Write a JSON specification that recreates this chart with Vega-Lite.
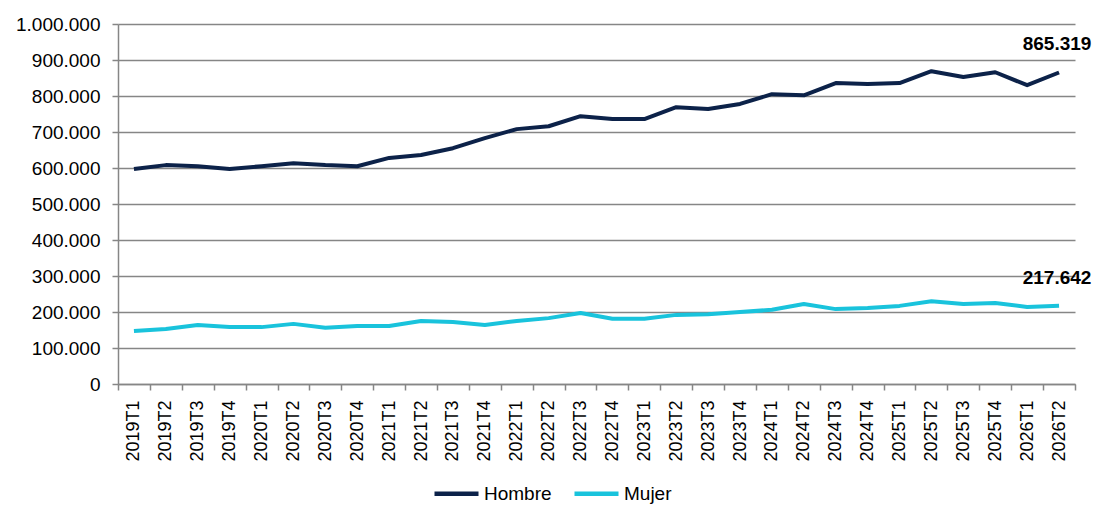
{
  "$schema": "https://vega.github.io/schema/vega-lite/v6.json",
  "autosize": "none",
  "padding": {"left": 118, "top": 24, "right": 24, "bottom": 141},
  "width": 957,
  "height": 360,
  "background": "white",
  "config": {
    "font": "Liberation Sans",
    "locale": {"number": {"decimal": ",", "thousands": ".", "grouping": [3], "currency": ["", " €"]}},
    "view": {"stroke": null},
    "axis": {"domainColor": "#868686", "domainWidth": 1.5, "tickColor": "#868686", "tickWidth": 1.5, "labelColor": "#000000", "labelFont": "Liberation Sans"}
  },
  "data": {
    "values": [
      {"periodo": "2019T1", "sexo": "Hombre", "valor": 597000},
      {"periodo": "2019T2", "sexo": "Hombre", "valor": 608000},
      {"periodo": "2019T3", "sexo": "Hombre", "valor": 605000},
      {"periodo": "2019T4", "sexo": "Hombre", "valor": 597000},
      {"periodo": "2020T1", "sexo": "Hombre", "valor": 605000},
      {"periodo": "2020T2", "sexo": "Hombre", "valor": 613000},
      {"periodo": "2020T3", "sexo": "Hombre", "valor": 608000},
      {"periodo": "2020T4", "sexo": "Hombre", "valor": 605000},
      {"periodo": "2021T1", "sexo": "Hombre", "valor": 628000},
      {"periodo": "2021T2", "sexo": "Hombre", "valor": 636000},
      {"periodo": "2021T3", "sexo": "Hombre", "valor": 655000},
      {"periodo": "2021T4", "sexo": "Hombre", "valor": 683000},
      {"periodo": "2022T1", "sexo": "Hombre", "valor": 708000},
      {"periodo": "2022T2", "sexo": "Hombre", "valor": 716000},
      {"periodo": "2022T3", "sexo": "Hombre", "valor": 744000},
      {"periodo": "2022T4", "sexo": "Hombre", "valor": 736000},
      {"periodo": "2023T1", "sexo": "Hombre", "valor": 736000},
      {"periodo": "2023T2", "sexo": "Hombre", "valor": 769000},
      {"periodo": "2023T3", "sexo": "Hombre", "valor": 764000},
      {"periodo": "2023T4", "sexo": "Hombre", "valor": 778000},
      {"periodo": "2024T1", "sexo": "Hombre", "valor": 805000},
      {"periodo": "2024T2", "sexo": "Hombre", "valor": 802000},
      {"periodo": "2024T3", "sexo": "Hombre", "valor": 836000},
      {"periodo": "2024T4", "sexo": "Hombre", "valor": 833000},
      {"periodo": "2025T1", "sexo": "Hombre", "valor": 836000},
      {"periodo": "2025T2", "sexo": "Hombre", "valor": 869000},
      {"periodo": "2025T3", "sexo": "Hombre", "valor": 853000},
      {"periodo": "2025T4", "sexo": "Hombre", "valor": 866000},
      {"periodo": "2026T1", "sexo": "Hombre", "valor": 830000},
      {"periodo": "2026T2", "sexo": "Hombre", "valor": 865319},
      {"periodo": "2019T1", "sexo": "Mujer", "valor": 147000},
      {"periodo": "2019T2", "sexo": "Mujer", "valor": 153000},
      {"periodo": "2019T3", "sexo": "Mujer", "valor": 164000},
      {"periodo": "2019T4", "sexo": "Mujer", "valor": 158000},
      {"periodo": "2020T1", "sexo": "Mujer", "valor": 158000},
      {"periodo": "2020T2", "sexo": "Mujer", "valor": 167000},
      {"periodo": "2020T3", "sexo": "Mujer", "valor": 156000},
      {"periodo": "2020T4", "sexo": "Mujer", "valor": 161000},
      {"periodo": "2021T1", "sexo": "Mujer", "valor": 161000},
      {"periodo": "2021T2", "sexo": "Mujer", "valor": 175000},
      {"periodo": "2021T3", "sexo": "Mujer", "valor": 172000},
      {"periodo": "2021T4", "sexo": "Mujer", "valor": 164000},
      {"periodo": "2022T1", "sexo": "Mujer", "valor": 175000},
      {"periodo": "2022T2", "sexo": "Mujer", "valor": 183000},
      {"periodo": "2022T3", "sexo": "Mujer", "valor": 197000},
      {"periodo": "2022T4", "sexo": "Mujer", "valor": 181000},
      {"periodo": "2023T1", "sexo": "Mujer", "valor": 181000},
      {"periodo": "2023T2", "sexo": "Mujer", "valor": 192000},
      {"periodo": "2023T3", "sexo": "Mujer", "valor": 194000},
      {"periodo": "2023T4", "sexo": "Mujer", "valor": 200000},
      {"periodo": "2024T1", "sexo": "Mujer", "valor": 206000},
      {"periodo": "2024T2", "sexo": "Mujer", "valor": 222000},
      {"periodo": "2024T3", "sexo": "Mujer", "valor": 208000},
      {"periodo": "2024T4", "sexo": "Mujer", "valor": 211000},
      {"periodo": "2025T1", "sexo": "Mujer", "valor": 217000},
      {"periodo": "2025T2", "sexo": "Mujer", "valor": 230000},
      {"periodo": "2025T3", "sexo": "Mujer", "valor": 222000},
      {"periodo": "2025T4", "sexo": "Mujer", "valor": 225000},
      {"periodo": "2026T1", "sexo": "Mujer", "valor": 214000},
      {"periodo": "2026T2", "sexo": "Mujer", "valor": 217642}
    ]
  },
  "encoding": {
    "x": {
      "field": "periodo",
      "type": "ordinal",
      "title": null,
      "scale": {"type": "band", "paddingInner": 0, "paddingOuter": 0},
      "axis": {
        "labelAngle": 270,
        "labelAlign": "right",
        "labelBaseline": "middle",
        "labelFontSize": 18,
        "tickBand": "extent",
        "tickSize": 6,
        "labelPadding": 10,
        "grid": false
      }
    },
    "y": {
      "field": "valor",
      "type": "quantitative",
      "title": null,
      "scale": {"domain": [0, 1000000], "nice": false},
      "axis": {
        "values": [0, 100000, 200000, 300000, 400000, 500000, 600000, 700000, 800000, 900000, 1000000],
        "format": ",.0f",
        "labelFontSize": 19,
        "tickSize": 6,
        "labelPadding": 12,
        "grid": true,
        "gridColor": "#868686",
        "gridWidth": 1.5
      }
    }
  },
  "layer": [
    {
      "mark": {"type": "line", "strokeWidth": 4, "strokeJoin": "round"},
      "encoding": {
        "color": {
          "field": "sexo",
          "type": "nominal",
          "title": null,
          "scale": {"domain": ["Hombre", "Mujer"], "range": ["#0c2249", "#19c3dc"]},
          "legend": {
            "orient": "none",
            "legendX": 314,
            "legendY": 445,
            "direction": "horizontal",
            "symbolType": "stroke",
            "symbolSize": 1936,
            "symbolStrokeWidth": 4.5,
            "labelFontSize": 19,
            "labelOffset": 3,
            "columnPadding": 13,
            "padding": 0
          }
        }
      }
    },
    {
      "transform": [{"filter": "datum.periodo == '2026T2'"}],
      "mark": {"type": "text", "fontWeight": "bold", "fontSize": 19, "dy": -28, "dx": -2, "color": "#000000"},
      "encoding": {
        "text": {"field": "valor", "type": "quantitative", "format": ",.0f"}
      }
    }
  ]
}
